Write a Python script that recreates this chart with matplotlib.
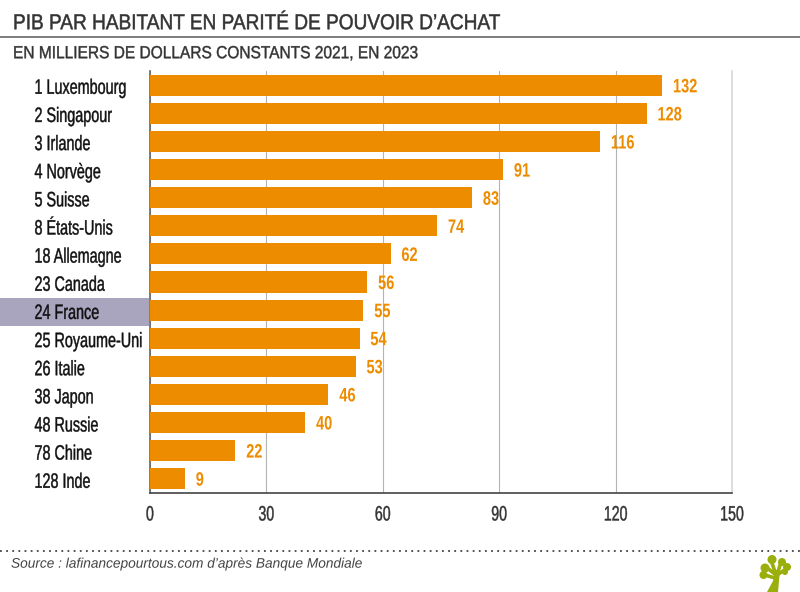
#!/usr/bin/env python3

import numpy as np
import matplotlib
matplotlib.use('Agg')
import matplotlib.pyplot as plt
import matplotlib.patheffects as pe
from matplotlib.patches import Circle, Polygon, Rectangle
from matplotlib.transforms import Affine2D

labels = ['1 Luxembourg', '2 Singapour', '3 Irlande', '4 Norvège', '5 Suisse',
          '8 États-Unis', '18 Allemagne', '23 Canada', '24 France',
          '25 Royaume-Uni', '26 Italie', '38 Japon', '48 Russie', '78 Chine',
          '128 Inde']
values = [132, 128, 116, 91, 83, 74, 62, 56, 55, 54, 53, 46, 40, 22, 9]
xticks = [0, 30, 60, 90, 120, 150]

W, H = 800, 592
FONT = ['Liberation Sans', 'DejaVu Sans']
ORANGE = '#ee8c00'
DARK = '#333333'


class Condensed(pe.AbstractPathEffect):
    # no condensed font here, so squeeze the glyphs of a real text horizontally
    def __init__(self, sx, stroke=0.0, center=False):
        super().__init__()
        self.sx = sx
        self.stroke = stroke
        self.center = center

    def draw_path(self, renderer, gc, tpath, affine, rgbFace=None):
        cx = tpath.get_extents().x0 + tpath.get_extents().width/2 if self.center else 0
        tr = Affine2D().translate(-cx, 0).scale(self.sx, 1).translate(cx, 0) + affine
        gc0 = renderer.new_gc()
        gc0.copy_properties(gc)
        if self.stroke:
            gc0.set_linewidth(self.stroke)
            gc0.set_foreground(rgbFace)
        renderer.draw_path(gc0, tpath, tr, rgbFace)
        gc0.restore()


fig = plt.figure(figsize=(W/100, H/100), dpi=100, facecolor='white')

# full figure overlay in pixel coords, y going down
bg = fig.add_axes([0, 0, 1, 1])
bg.set_xlim(0, W)
bg.set_ylim(H, 0)
bg.axis('off')

# highlighted row behind France
bg.add_patch(Rectangle((0, 298), 149, 28, fc='#a9a5bf', ec='none'))

# header
t = bg.text(13, 23.7, 'PIB PAR HABITANT EN PARITÉ DE POUVOIR D’ACHAT', fontsize=15.5,
            family=FONT, color=DARK, va='center')
t.set_path_effects([Condensed(0.885, stroke=0.35)])
bg.plot([0, W], [37, 37], color='#666666', lw=1.2)
t = bg.text(13, 53.7, 'EN MILLIERS DE DOLLARS CONSTANTS 2021, EN 2023', fontsize=12.6,
            family=FONT, color=DARK, va='center')
t.set_path_effects([Condensed(0.885, stroke=0.3)])

# footer
bg.plot([0, W], [550.5, 550.5], color='#444444', lw=1.3, ls=(0, (1, 2.4)))
t = bg.text(11, 563.7, 'Source : lafinancepourtous.com d’après Banque Mondiale',
            fontsize=10, style='italic', family=FONT, color='#444444', va='center')
t.set_path_effects([Condensed(0.985)])

# tree logo
GREEN = '#9aae0c'
bg.add_patch(Polygon([[767, 592], [773, 581], [775, 570], [780, 570], [778, 592]],
                     fc=GREEN, ec='none'))
for a, b in [((776, 575), (766, 567)), ((776, 575), (771, 560)),
             ((777, 575), (781, 562)), ((777, 575), (786, 569)), ((775, 578), (765, 575))]:
    bg.plot(*zip(a, b), color=GREEN, lw=2.6, solid_capstyle='round')
for c, r in [((763.5, 575), 4), ((765, 568), 4.5), ((772, 559.5), 4.5), ((782, 562), 4),
             ((787, 567), 4), ((785, 572), 3)]:
    bg.add_patch(Circle(c, r, fc=GREEN, ec='none'))

# chart
ax = fig.add_axes([150/W, 1 - 493/H, 582/W, 422/H])
ax.patch.set_alpha(0)
y = np.arange(len(values))
ax.barh(y, values, height=0.75, color=ORANGE, zorder=3)
ax.set_xlim(0, 150)
ax.set_ylim(len(values) - 0.49, -0.51)
ax.grid(axis='x', color='#b4b4b4', lw=0.8, zorder=0)
ax.set_xticks(xticks)
ax.tick_params(axis='x', length=0, pad=9, labelsize=15, labelcolor=DARK)
ax.tick_params(axis='y', length=0, left=False, labelleft=False)
for t in ax.get_xticklabels():
    t.set_family(FONT)
    t.set_path_effects([Condensed(0.68, stroke=0.3, center=True)])
ax.spines['top'].set_visible(False)
ax.spines['right'].set_color('#d8d8d8')
ax.spines['left'].set_color('#666666')
ax.spines['bottom'].set_color('#444444')
for s in ['left', 'bottom', 'right']:
    ax.spines[s].set_linewidth(1.2)

for i, (lab, v) in enumerate(zip(labels, values)):
    t = ax.annotate(str(v), (v, i), xytext=(7.8, -1.8), textcoords='offset points',
                    color=ORANGE, fontsize=14, fontweight='bold', family=FONT,
                    va='center', ha='left', zorder=4)
    t.set_path_effects([Condensed(0.75)])
    py = 88.3 + i * (481.5 - 87.5) / 14
    t = bg.text(34.5, py, lab, color='#111111', fontsize=15, family=FONT, va='center')
    t.set_path_effects([Condensed(0.69, stroke=0.3)])

fig.savefig('out.png', dpi=100)
